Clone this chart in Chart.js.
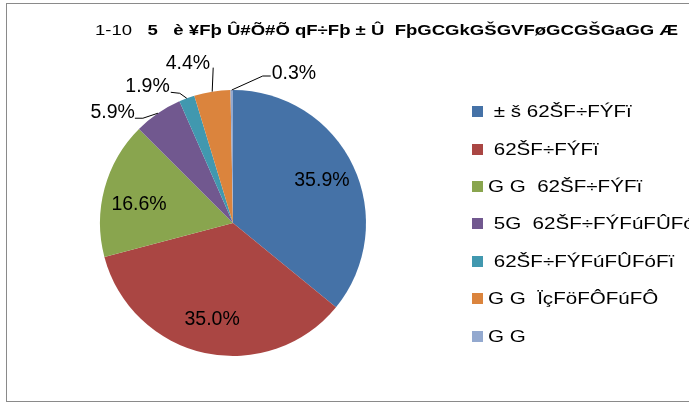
<!DOCTYPE html>
<html>
<head>
<meta charset="utf-8">
<script src="https://cdn.jsdelivr.net/npm/chart.js@4/dist/chart.umd.min.js"></script>
<style>
  html, body { margin: 0; padding: 0; background: #fff; }
  #wrap { position: relative; width: 689px; height: 405px; overflow: hidden; background: #fff; }
  #frame { position: absolute; left: 6px; top: 3px; width: 700px; height: 399px; border: 1px solid #8a8a8a; box-sizing: border-box; }
  #title { position: absolute; left: 95px; top: 21px; white-space: pre; font: bold 15.5px "Liberation Sans", Arial, sans-serif; color: #000; transform-origin: 0 0; }
  #title .n { font-weight: normal; }
  #legend { position: absolute; left: 472px; top: 0; width: 217px; height: 405px; overflow: hidden; }
  .row { position: absolute; left: 0; height: 20px; width: 300px; white-space: pre; font: 17px "Liberation Sans", Arial, sans-serif; color: #000; }
  .sw { position: absolute; left: 0; top: 4px; width: 11px; height: 11px; }
  .tx { position: absolute; left: 16px; top: 0; line-height: 20px; transform: scaleX(1.21); transform-origin: 0 0; }
  canvas { position: absolute; left: 0; top: 0; }
</style>
</head>
<body>
<div id="wrap">
  <div id="frame"></div>
  <canvas id="c" width="689" height="405"></canvas>
  <div id="title"><span class="n">1-10</span>   5   è ¥Fþ Û#Õ#Õ qF÷Fþ ± Û  FþGCGkGŠGVFøGCGŠGaGG Æ</div>
  <div id="legend"></div>
</div>
<script>
// ---- data ----
const categories = [
  " ± š 62ŠF÷FÝFï",
  " 62ŠF÷FÝFï",
  "G G  62ŠF÷FÝFï",
  " 5G  62ŠF÷FÝFúFÛFóFï",
  " 62ŠF÷FÝFúFÛFóFï",
  "G G  ÏçFöFÔFúFÔ",
  "G G"
];
const shares = [35.9, 35.0, 16.6, 5.9, 1.9, 4.4, 0.3];
const colors = ["#4572A7", "#AA4643", "#89A54E", "#71588F", "#4198AF", "#DB843D", "#93A9CF"];

// label placement style (offsets from slice edge point for outside labels)
const outside = {
  3: { tx: -23, ty: -1, align: "right", line: [[-15, 5], [-23, 5]] },
  4: { tx: -17, ty: -12, align: "right", line: [[-7, -5], [-16, -6]] },
  5: { tx: -2, ty: -28, align: "right", line: [[1, -24]] },
  6: { tx: 40, ty: -16, align: "left", line: [[31, -14], [39, -14]] }
};
const insideRadius = { 0: 0.74, 1: 0.74, 2: 0.72 };
const insideShift = { 0: 0, 1: 0, 2: 0.07 };

const labelPlugin = {
  id: "pctLabels",
  afterDatasetsDraw(chart) {
    const ctx = chart.ctx;
    const meta = chart.getDatasetMeta(0);
    ctx.save();
    ctx.font = '19.5px "Liberation Sans", Arial, sans-serif';
    ctx.fillStyle = "#000";
    ctx.textBaseline = "middle";
    meta.data.forEach((arc, i) => {
      const p = arc.getProps(["x", "y", "startAngle", "endAngle", "outerRadius"], true);
      const mid = (p.startAngle + p.endAngle) / 2;
      const txt = shares[i].toFixed(1) + "%";
      const o = outside[i];
      if (!o) {
        const r = p.outerRadius * insideRadius[i];
        const a = mid - insideShift[i];
        ctx.textAlign = "center";
        ctx.fillText(txt, p.x + Math.cos(a) * r, p.y + Math.sin(a) * r);
      } else {
        const ex = p.x + Math.cos(mid) * p.outerRadius;
        const ey = p.y + Math.sin(mid) * p.outerRadius;
        ctx.beginPath();
        ctx.strokeStyle = "#000";
        ctx.lineWidth = 1;
        ctx.moveTo(ex, ey);
        o.line.forEach(pt => ctx.lineTo(ex + pt[0], ey + pt[1]));
        ctx.stroke();
        ctx.textAlign = o.align;
        ctx.fillText(txt, ex + o.tx, ey + o.ty);
      }
    });
    ctx.restore();
  }
};

new Chart(document.getElementById("c"), {
  type: "pie",
  data: {
    labels: categories,
    datasets: [{ data: shares, backgroundColor: colors, borderWidth: 0 }]
  },
  options: {
    responsive: false,
    animation: false,
    layout: { padding: { left: 99, right: 322, top: 90, bottom: 49 } },
    plugins: { legend: { display: false }, title: { display: false }, tooltip: { enabled: false } }
  },
  plugins: [labelPlugin]
});

// title stretched to the reference span
const t = document.getElementById("title");
const tw = t.getBoundingClientRect().width;
t.style.transform = "scaleX(" + (583 / tw) + ")";

// legend (HTML) built from the same arrays
const lg = document.getElementById("legend");
const rowTops = [102, 140, 177, 214, 252, 289, 327];
categories.forEach((c, i) => {
  const row = document.createElement("div");
  row.className = "row";
  row.style.top = rowTops[i] + "px";
  row.innerHTML = '<div class="sw" style="background:' + colors[i] + '"></div><div class="tx"></div>';
  row.querySelector(".tx").textContent = c;
  lg.appendChild(row);
});
</script>
</body>
</html>
